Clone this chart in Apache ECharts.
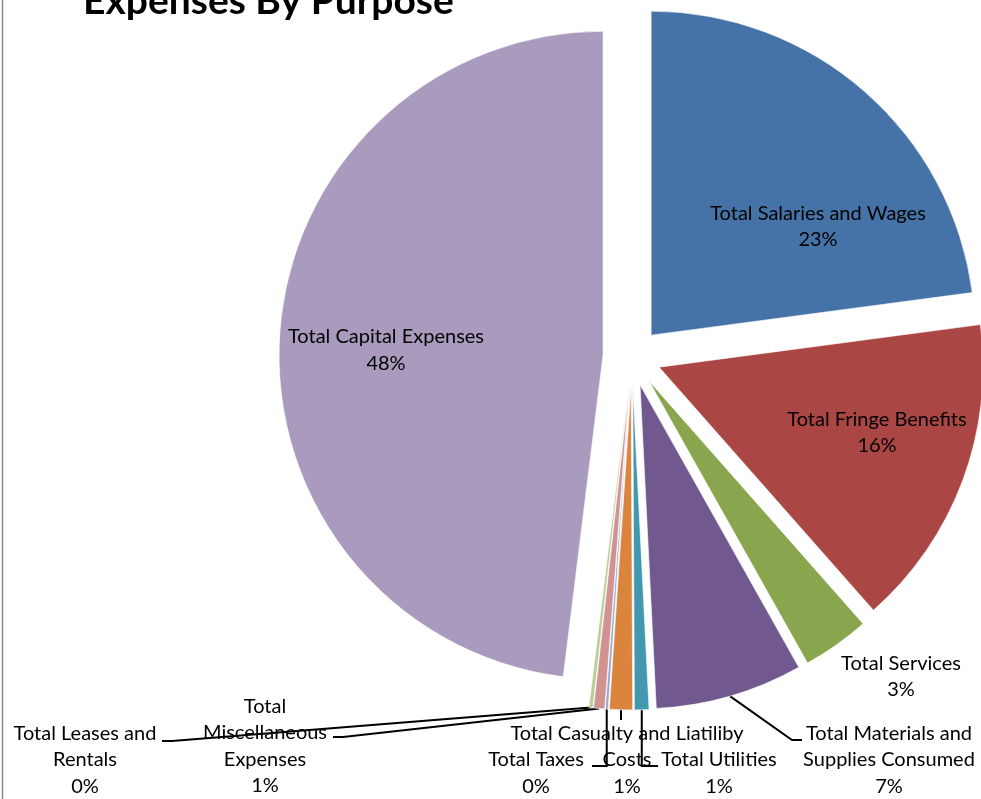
<!DOCTYPE html>
<html>
<head>
<meta charset="utf-8">
<script src="https://cdn.jsdelivr.net/npm/echarts@6/dist/echarts.min.js"></script>
<style>
html,body{margin:0;padding:0;background:#fff;}
#main{width:981px;height:799px;}
</style>
</head>
<body>
<div id="main"></div>
<script>
// ---- data ----
const categories = [
  'Total Salaries and Wages',
  'Total Fringe Benefits',
  'Total Services',
  'Total Materials and Supplies Consumed',
  'Total Utilities',
  'Total Casualty and Liatiliby Costs',
  'Total Taxes',
  'Total Miscellaneous Expenses',
  'Total Leases and Rentals',
  'Total Capital Expenses'
];
const values = [22.9, 15.6, 3.35, 7.35, 0.72, 1.15, 0.14, 0.55, 0.2, 48.04];
const labelTexts = [
  'Total Salaries and Wages',
  'Total Fringe Benefits',
  'Total Services',
  'Total Materials and\nSupplies Consumed',
  'Total Utilities',
  'Total Casualty and Liatiliby\nCosts',
  'Total Taxes',
  'Total\nMiscellaneous\nExpenses',
  'Total Leases and\nRentals',
  'Total Capital Expenses'
];
const titleText = 'Expenses By Purpose';

// ---- layout / style ----
const palette = ['#4572A7','#AA4643','#89A54E','#71588F','#4198AF','#DB843D','#93A9CF','#D19392','#B9CD96','#A99BBD'];
const labelPos = [[818,226.5],[877,432.5],[901,676.5],[889,760],[719,773],[627,760],[536,773],[265,746],[85,760],[386,350]];
// leader-line ending: [endX, endY, mode]  mode: 'stub' = slanted then short horizontal, 'elbow' = vertical then horizontal, 'straight'
const leaderEnd = {
  3: [802, 740, 'stub'],
  4: [658, 766, 'elbow'],
  5: [622, 720, 'straight'],
  6: [592, 766, 'elbow'],
  7: [333, 737, 'stub'],
  8: [162, 741, 'stub']
};
const FONT = 'Lato, "Open Sans", sans-serif';
const CENTER = [632, 357];
const R = 324, OFFSET = 29;

const chart = echarts.init(document.getElementById('main'), null, {renderer:'canvas'});
const total = values.reduce((a,b)=>a+b,0);

const sliceData = categories.map((c,i)=>({name: c, value: values[i], selected: true}));
const labelData = categories.map((c,i)=>({
  name: c, value: values[i],
  labelLine: {show: leaderEnd[i] !== undefined}
}));

chart.setOption({
  animation: false,
  color: palette,
  graphic: [
    {type:'text', left: 83, top: -18, style:{text: titleText, font: 'bold 39px ' + FONT, fill:'#000'}},
    {type:'line', shape:{x1:2.5,y1:0,x2:2.5,y2:799}, style:{stroke:'#8a8a8a', lineWidth:1.5}}
  ],
  series: [{
    type: 'pie',
    center: CENTER,
    radius: R,
    startAngle: 90,
    clockwise: true,
    selectedMode: 'multiple',
    selectedOffset: OFFSET,
    emphasis: {disabled: true},
    silent: true,
    itemStyle: {borderColor:'#fff', borderWidth: 0.6},
    label: {show: false},
    labelLine: {show: false},
    data: sliceData
  }, {
    // transparent companion pie (outer edge = exploded slice tips) carrying the data labels
    type: 'pie',
    center: CENTER,
    radius: R + OFFSET,
    startAngle: 90,
    clockwise: true,
    silent: true,
    emphasis: {disabled: true},
    avoidLabelOverlap: false,
    itemStyle: {color: 'rgba(0,0,0,0)'},
    label: {
      show: true,
      color: '#000',
      fontFamily: FONT,
      fontSize: 20,
      lineHeight: 26.5,
      align: 'center',
      formatter: p => labelTexts[p.dataIndex] + '\n' + Math.round(p.value/total*100) + '%'
    },
    labelLine: {show: true, length: 10, length2: 10, lineStyle: {color:'#000', width: 2}},
    labelLayout: function(p){
      const i = p.dataIndex;
      const pos = labelPos[i];
      const out = {x: pos[0], y: pos[1], align: 'center', verticalAlign: 'middle'};
      const le = leaderEnd[i];
      if (le && p.labelLinePoints && p.labelLinePoints.length) {
        const p0 = p.labelLinePoints[0];
        const end = [le[0], le[1]];
        let mid;
        if (le[2] === 'elbow') mid = [p0[0], end[1]];
        else if (le[2] === 'straight') mid = [p0[0], (p0[1] + end[1]) / 2];
        else mid = [end[0] + (p0[0] > end[0] ? 10 : -10), end[1]];
        if (le[2] === 'straight') end[0] = p0[0];
        out.labelLinePoints = [p0, mid, end];
      }
      return out;
    },
    data: labelData
  }]
});
</script>
</body>
</html>
